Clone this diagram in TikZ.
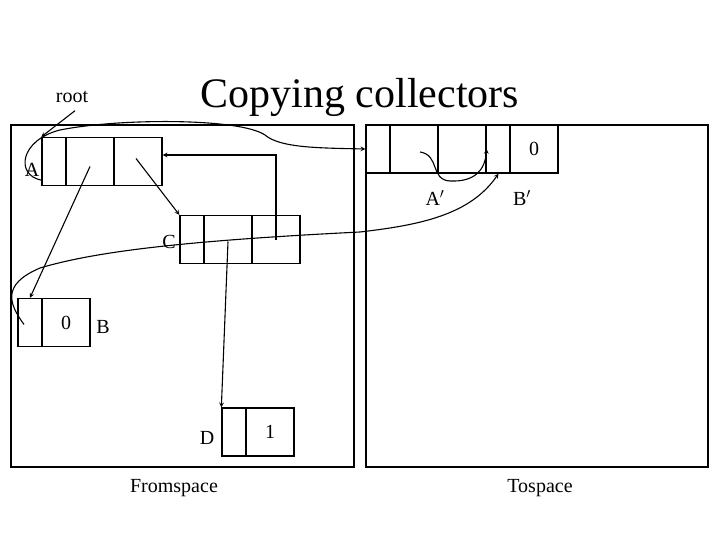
\documentclass[tikz,border=0pt]{standalone}
\usepackage{fontspec}
\setmainfont{Liberation Serif}
\begin{document}
\begin{tikzpicture}[x=1pt,y=-1pt,line width=1.3pt,
  cell/.style={draw,minimum height=48pt,inner sep=0pt,font=\fontsize{20}{24}\selectfont},
  lbl/.style={font=\fontsize{20}{24}\selectfont},
  arr/.style={->,>=stealth,line width=1.1pt}]
\useasboundingbox (0,0) rectangle (720,540);
\node[font=\fontsize{42}{48}\selectfont] (title) at (360,97) {Copying collectors};
\node[lbl] (root) at (72,97) {root};
\node[draw,line width=2pt,minimum width=343pt,minimum height=342pt] (from) at (182.5,296) {};
\node[draw,line width=2pt,minimum width=342pt,minimum height=342pt] (to) at (537,296) {};
\node[lbl] (fl) at (174,488) {Fromspace};
\node[lbl] (tl) at (540,488) {Tospace};
% A
\node[cell,minimum width=24pt] (a1) at (54,161.5) {};
\node[cell,minimum width=48pt] (a2) at (90,161.5) {};
\node[cell,minimum width=48pt] (a3) at (138,161.5) {};
\node[lbl] (al) at (32,170) {A};
% C
\node[cell,minimum width=24pt] (c1) at (192,239.5) {};
\node[cell,minimum width=48pt] (c2) at (228,239.5) {};
\node[cell,minimum width=48pt] (c3) at (276,239.5) {};
\node[lbl] (cl) at (169,242) {C};
% B
\node[cell,minimum width=24pt] (b1) at (30,322.5) {};
\node[cell,minimum width=48pt] (b2) at (66,322.5) {0};
\node[lbl] (bl) at (103,327) {B};
% D
\node[cell,minimum width=24pt] (d1) at (234,432) {};
\node[cell,minimum width=48pt] (d2) at (270,432) {1};
\node[lbl] (dl) at (207,438) {D};
% A'
\node[cell,minimum width=24pt] (ap1) at (378,149) {};
\node[cell,minimum width=48pt] (ap2) at (414,149) {};
\node[cell,minimum width=48pt] (ap3) at (462,149) {};
\node[lbl] (apl) at (435,198) {A$'$};
% B'
\node[cell,minimum width=24pt] (bp1) at (498.5,149) {};
\node[cell,minimum width=48pt] (bp2) at (534,149) {0};
\node[lbl] (bpl) at (522,198) {B$'$};
% connectors
\draw[arr] (root.south) ++(3,4) -- (a1.north west);
\draw[arr] (a1.south west) ++(0,-6) .. controls (15,175) and (20,140) .. (60,130)
  .. controls (120,118) and (240,118) .. (265,135) .. controls (280,148) and (320,148) .. (ap1.west);
\draw[arr] (a2.center) ++(0,5) -- (b1.north);
\draw[arr] (a3.center) ++(-2,-3) -- (c1.north west);
\draw[arr] (c3.center) ++(0,0) -- (276,155) -- (a3.east |- 0,155);
\draw[arr] (c2.center) ++(0,2) -- (d1.north west);
\draw[arr] (b1.center) ++(-6,2) .. controls (10,305) and (0,285) .. (40,268)
  .. controls (100,250) and (200,240) .. (360,232) .. controls (420,225) and (470,215) .. (bp1.south);
\draw[arr] (420,152) .. controls (440,155) and (430,180) .. (450,181) .. controls (475,182) and (485,170) .. (ap3.east);
\end{tikzpicture}
\end{document}
